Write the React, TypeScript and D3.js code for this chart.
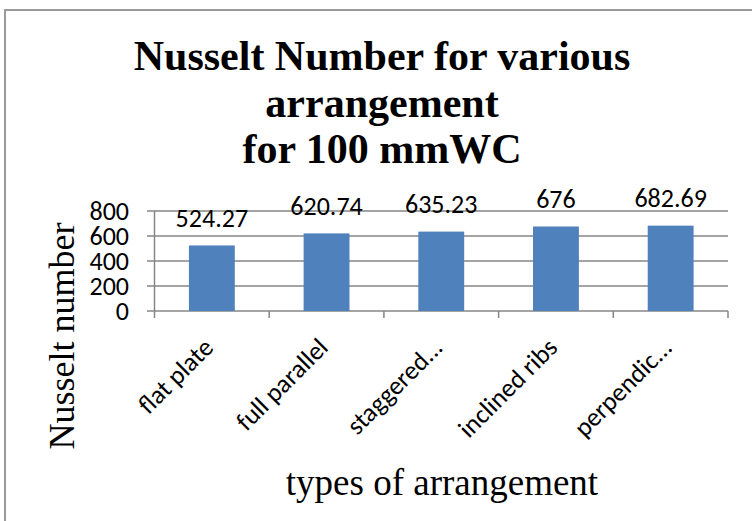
import React from "react";
import * as d3 from "d3";

const categories = ["flat plate", "full parallel", "staggered...", "inclined ribs", "perpendic..."];
const values = [524.27, 620.74, 635.23, 676, 682.69];
const valueLabels = ["524.27", "620.74", "635.23", "676", "682.69"];
const yTicks = [0, 200, 400, 600, 800];
const titleLines = ["Nusselt Number for various", "arrangement", "for 100 mmWC"];
const yTitle = "Nusselt number";
const xTitle = "types of arrangement";

const W = 752;
const H = 521;
const plot = { left: 154.5, right: 728, top: 211, bottom: 311 };
const sans = 'Carlito, Calibri, "Liberation Sans", Arial, sans-serif';
const serif = '"Liberation Serif", "Times New Roman", serif';

export default function App() {
  const x = d3
    .scaleBand<string>()
    .domain(categories)
    .range([plot.left, plot.right])
    .paddingInner(0.6)
    .paddingOuter(0.3);
  const y = d3.scaleLinear().domain([0, 800]).range([plot.bottom, plot.top]);
  const step = x.step();
  const bandStart = (c: string) => (x(c) as number) - (step * x.paddingInner()) / 2;
  const gridColor = "#868686";

  return (
    <svg
      width={W}
      height={H}
      style={{ position: "absolute", left: 0, top: 0, background: "#fff" }}
    >
      <rect x={0} y={0} width={W} height={H} fill="#fff" />
      <rect x={5} y={10} width={W + 10} height={H + 10} fill="none" stroke="#9a9a9a" strokeWidth={2} />

      {titleLines.map((t, i) => (
        <text
          key={t}
          x={382}
          y={70 + i * 46.5}
          textAnchor="middle"
          fontFamily={serif}
          fontWeight="bold"
          fontSize={42}
          fill="#000"
        >
          {t}
        </text>
      ))}

      {yTicks.map((t) => (
        <g key={t}>
          <line x1={plot.left - 7.5} x2={plot.right} y1={y(t)} y2={y(t)} stroke={gridColor} strokeWidth={1.5} />
          <text
            x={129}
            y={y(t)}
            dy="0.34em"
            textAnchor="end"
            fontFamily={sans}
            fontSize={26}
            fill="#000"
          >
            {t}
          </text>
        </g>
      ))}
      <line x1={plot.left} x2={plot.left} y1={plot.top} y2={plot.bottom} stroke={gridColor} strokeWidth={1.5} />

      {categories.map((c) => (
        <line
          key={"tk" + c}
          x1={bandStart(c)}
          x2={bandStart(c)}
          y1={plot.bottom}
          y2={plot.bottom + 7}
          stroke={gridColor}
          strokeWidth={1.5}
        />
      ))}
      <line x1={plot.right} x2={plot.right} y1={plot.bottom} y2={plot.bottom + 7} stroke={gridColor} strokeWidth={1.5} />

      {categories.map((c, i) => (
        <rect
          key={"b" + c}
          x={x(c)}
          y={y(values[i])}
          width={x.bandwidth()}
          height={y(0) - y(values[i])}
          fill="#4F81BD"
        />
      ))}

      {categories.map((c, i) => (
        <text
          key={"v" + c}
          x={(x(c) as number) + x.bandwidth() / 2}
          y={y(values[i]) - 18.5}
          textAnchor="middle"
          fontFamily={sans}
          fontSize={26}
          fill="#000"
        >
          {valueLabels[i]}
        </text>
      ))}

      {categories.map((c) => {
        const cx = (x(c) as number) + x.bandwidth() / 2 + 3;
        const cy = plot.bottom + 38;
        return (
          <text
            key={"c" + c}
            transform={`translate(${cx},${cy}) rotate(-45)`}
            textAnchor="end"
            fontFamily={sans}
            fontSize={26}
            fill="#000"
          >
            {c}
          </text>
        );
      })}

      <text
        transform={`translate(74,336) rotate(-90)`}
        textAnchor="middle"
        fontFamily={serif}
        fontSize={36}
        fill="#000"
      >
        {yTitle}
      </text>
      <text x={442} y={495} textAnchor="middle" fontFamily={serif} fontSize={37} fill="#000">
        {xTitle}
      </text>
    </svg>
  );
}
